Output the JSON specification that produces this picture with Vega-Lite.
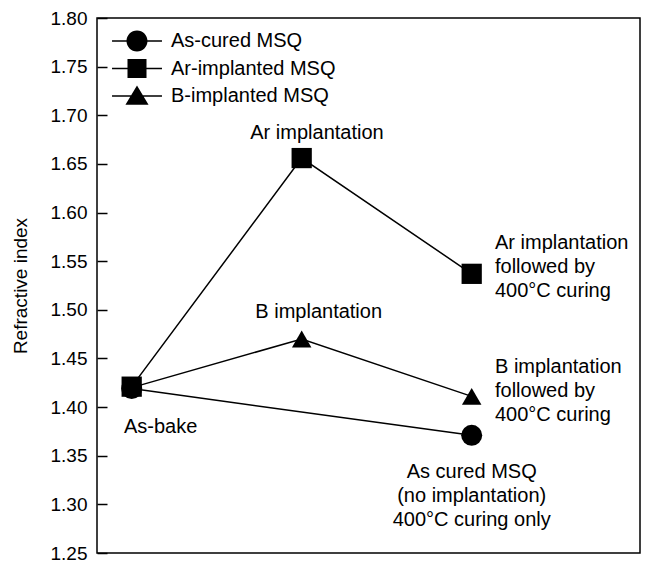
{
  "$schema": "https://vega.github.io/schema/vega-lite/v6.json",
  "width": 543,
  "height": 535,
  "autosize": "none",
  "padding": {"left": 97, "top": 18, "right": 7, "bottom": 9},
  "background": "white",
  "config": {
    "font": "Liberation Sans",
    "view": {"stroke": "black", "strokeWidth": 1.5},
    "text": {"font": "Liberation Sans", "fontSize": 20, "color": "black", "lineBreak": "\n", "lineHeight": 24}
  },
  "datasets": {
    "points": [
      {"series": "As-cured MSQ", "step": 1, "ri": 1.419},
      {"series": "As-cured MSQ", "step": 3, "ri": 1.371},
      {"series": "Ar-implanted MSQ", "step": 1, "ri": 1.421},
      {"series": "Ar-implanted MSQ", "step": 2, "ri": 1.656},
      {"series": "Ar-implanted MSQ", "step": 3, "ri": 1.537},
      {"series": "B-implanted MSQ", "step": 1, "ri": 1.420},
      {"series": "B-implanted MSQ", "step": 2, "ri": 1.470},
      {"series": "B-implanted MSQ", "step": 3, "ri": 1.411}
    ],
    "notesCentered": [
      {"step": 2.09, "ri": 1.6756, "note": "Ar implantation"},
      {"step": 2.10, "ri": 1.4916, "note": "B implantation"},
      {"step": 1.17, "ri": 1.3734, "note": "As-bake"},
      {"step": 3.00, "ri": 1.3271, "note": "As cured MSQ\n(no implantation)\n400°C curing only"}
    ],
    "notesLeft": [
      {"step": 3.137, "ri": 1.5625, "note": "Ar implantation\nfollowed by\n400°C curing"},
      {"step": 3.137, "ri": 1.435, "note": "B implantation\nfollowed by\n400°C curing"}
    ]
  },
  "resolve": {"scale": {"shape": "independent"}},
  "layer": [
    {
      "data": {"name": "points"},
      "mark": {"type": "line", "color": "black", "strokeWidth": 1.5},
      "encoding": {
        "x": {"field": "step", "type": "quantitative", "scale": {"domain": [0.796, 3.99], "nice": false, "zero": false}, "axis": null},
        "y": {
          "field": "ri", "type": "quantitative",
          "scale": {"domain": [1.25, 1.8], "nice": false, "zero": false},
          "axis": {
            "title": "Refractive index",
            "values": [1.25, 1.3, 1.35, 1.4, 1.45, 1.5, 1.55, 1.6, 1.65, 1.7, 1.75, 1.8],
            "format": ".2f",
            "domain": false,
            "grid": false,
            "tickSize": -10,
            "tickWidth": 1.5,
            "tickColor": "black",
            "labelPadding": 20,
            "labelFontSize": 19,
            "labelColor": "black",
            "labelFont": "Liberation Sans",
            "titleFont": "Liberation Sans",
            "titleFontSize": 19,
            "titleFontWeight": "normal",
            "titleColor": "black",
            "titlePadding": 20
          }
        },
        "detail": {"field": "series", "type": "nominal"},
        "order": {"field": "step", "type": "quantitative"}
      }
    },
    {
      "data": {"name": "points"},
      "mark": {"type": "point", "filled": true, "color": "black", "opacity": 1},
      "encoding": {
        "x": {"field": "step", "type": "quantitative"},
        "y": {"field": "ri", "type": "quantitative"},
        "shape": {
          "field": "series", "type": "nominal",
          "scale": {
            "domain": ["As-cured MSQ", "Ar-implanted MSQ", "B-implanted MSQ"],
            "range": ["circle", "square", "triangle-up"]
          },
          "legend": null
        },
        "size": {
          "field": "series", "type": "nominal",
          "scale": {
            "domain": ["As-cured MSQ", "Ar-implanted MSQ", "B-implanted MSQ"],
            "range": [441, 380, 529]
          },
          "legend": null
        }
      }
    },
    {
      "data": {"name": "points"},
      "transform": [{"filter": "false"}],
      "mark": {"type": "point", "filled": true, "color": "black", "opacity": 1},
      "encoding": {
        "x": {"field": "step", "type": "quantitative"},
        "y": {"field": "ri", "type": "quantitative"},
        "shape": {
          "field": "series", "type": "nominal",
          "scale": {
            "domain": ["As-cured MSQ", "Ar-implanted MSQ", "B-implanted MSQ"],
            "range": [
              "M-2.27,-0.07H2.27V0.07H-2.27ZM-0.955,0A0.955,0.955,0,1,1,0.955,0A0.955,0.955,0,1,1,-0.955,0Z",
              "M-2.27,-0.07H2.27V0.07H-2.27ZM-0.864,-0.864H0.864V0.864H-0.864Z",
              "M-2.27,-0.07H2.27V0.07H-2.27ZM0,-0.95L1.05,0.8H-1.05Z"
            ]
          },
          "legend": {
            "title": null,
            "orient": "none",
            "legendX": 28,
            "legendY": 11,
            "padding": 0,
            "symbolSize": 484,
            "symbolFillColor": "black",
            "symbolOpacity": 1,
            "labelFontSize": 20,
            "labelFont": "Liberation Sans",
            "labelColor": "black",
            "labelOffset": 22,
            "labelLimit": 0,
            "rowPadding": 0.5
          }
        }
      }
    },
    {
      "data": {"name": "notesCentered"},
      "mark": {"type": "text", "align": "center", "baseline": "alphabetic"},
      "encoding": {
        "x": {"field": "step", "type": "quantitative"},
        "y": {"field": "ri", "type": "quantitative"},
        "text": {"field": "note", "type": "nominal"}
      }
    },
    {
      "data": {"name": "notesLeft"},
      "mark": {"type": "text", "align": "left", "baseline": "alphabetic"},
      "encoding": {
        "x": {"field": "step", "type": "quantitative"},
        "y": {"field": "ri", "type": "quantitative"},
        "text": {"field": "note", "type": "nominal"}
      }
    }
  ]
}
